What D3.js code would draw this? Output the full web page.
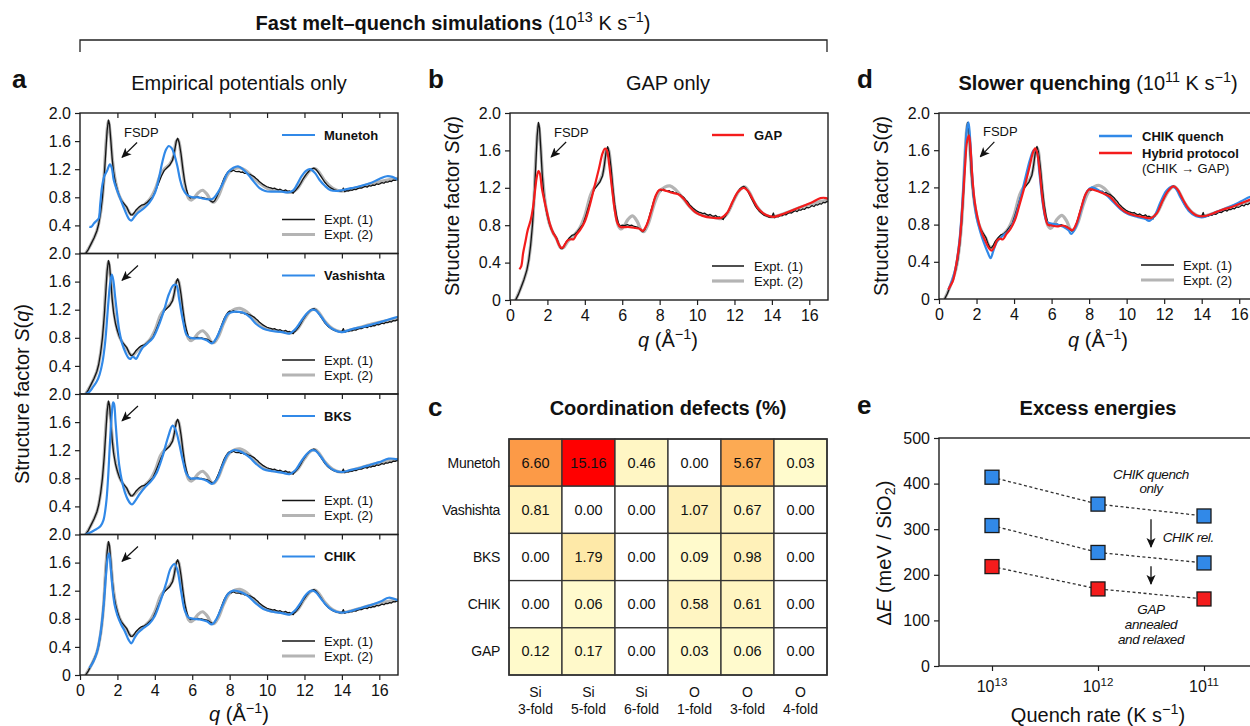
<!DOCTYPE html>
<html>
<head>
<meta charset="utf-8">
<script src="https://cdn.jsdelivr.net/npm/d3@7"></script>
<style>
body { margin: 0; background: #fff; }
svg { font-family: "Liberation Sans", Arial, sans-serif; }
</style>
</head>
<body>
<script>
// ---- data: structure factors S(q), [q, S] ----
var expt1 = [[0.3,0.0],[0.45,0.06],[0.6,0.14],[0.75,0.22],[0.9,0.32],[1.0,0.42],[1.1,0.58],[1.2,0.8],[1.3,1.12],[1.38,1.45],[1.45,1.75],[1.52,1.9],[1.58,1.84],[1.65,1.6],[1.72,1.35],[1.8,1.15],[1.9,1.0],[2.0,0.9],[2.1,0.82],[2.2,0.76],[2.35,0.71],[2.5,0.66],[2.62,0.59],[2.72,0.55],[2.8,0.55],[2.9,0.58],[3.0,0.62],[3.15,0.66],[3.3,0.69],[3.45,0.7],[3.6,0.73],[3.75,0.77],[3.9,0.81],[4.05,0.9],[4.2,1.0],[4.35,1.1],[4.5,1.18],[4.65,1.22],[4.8,1.26],[4.95,1.33],[5.05,1.45],[5.15,1.6],[5.22,1.64],[5.3,1.58],[5.4,1.42],[5.5,1.2],[5.6,1.02],[5.7,0.9],[5.8,0.82],[5.9,0.79],[6.0,0.8],[6.1,0.795],[6.2,0.8],[6.3,0.805],[6.4,0.795],[6.5,0.8],[6.6,0.79],[6.7,0.785],[6.8,0.78],[6.9,0.765],[7.0,0.745],[7.1,0.73],[7.2,0.75],[7.3,0.8],[7.4,0.86],[7.5,0.93],[7.6,1.0],[7.7,1.07],[7.8,1.12],[7.9,1.16],[8.0,1.18],[8.1,1.17],[8.2,1.185],[8.3,1.17],[8.4,1.165],[8.5,1.17],[8.6,1.155],[8.7,1.16],[8.8,1.14],[8.9,1.145],[9.0,1.13],[9.1,1.125],[9.2,1.11],[9.3,1.095],[9.4,1.07],[9.5,1.05],[9.6,1.02],[9.7,1.0],[9.8,0.98],[9.9,0.965],[10.0,0.95],[10.1,0.94],[10.2,0.935],[10.3,0.925],[10.4,0.93],[10.5,0.915],[10.6,0.905],[10.7,0.915],[10.8,0.9],[10.9,0.895],[11.0,0.905],[11.1,0.885],[11.2,0.89],[11.3,0.875],[11.4,0.86],[11.45,0.885],[11.5,0.89],[11.6,0.925],[11.7,0.96],[11.8,1.0],[11.9,1.05],[12.0,1.09],[12.1,1.13],[12.2,1.16],[12.3,1.19],[12.4,1.205],[12.5,1.215],[12.6,1.2],[12.7,1.17],[12.8,1.13],[12.9,1.09],[13.0,1.05],[13.1,1.01],[13.2,0.98],[13.3,0.955],[13.4,0.935],[13.5,0.92],[13.6,0.905],[13.7,0.9],[13.8,0.89],[13.9,0.885],[14.0,0.89],[14.08,0.93],[14.15,0.88],[14.25,0.895],[14.35,0.89],[14.45,0.905],[14.55,0.9],[14.65,0.915],[14.75,0.91],[14.85,0.925],[14.95,0.935],[15.05,0.93],[15.15,0.945],[15.25,0.955],[15.35,0.945],[15.45,0.965],[15.55,0.96],[15.65,0.975],[15.75,0.97],[15.85,0.99],[15.95,0.985],[16.05,0.995],[16.15,1.01],[16.25,1.0],[16.35,1.02],[16.45,1.015],[16.55,1.03],[16.65,1.025],[16.75,1.045],[16.85,1.04],[16.95,1.055],[17.0,1.05]];

var expt2 = [[0.3,0.0],[0.6,0.14],[0.9,0.32],[1.1,0.58],[1.25,0.95],[1.4,1.6],[1.52,1.88],[1.62,1.7],[1.75,1.3],[1.9,1.02],[2.1,0.82],[2.3,0.72],[2.5,0.65],[2.7,0.56],[2.85,0.56],[3.1,0.63],[3.4,0.69],[3.7,0.76],[4.0,0.9],[4.3,1.12],[4.5,1.2],[4.8,1.27],[5.0,1.38],[5.15,1.6],[5.25,1.62],[5.4,1.4],[5.6,1.0],[5.8,0.79],[5.95,0.76],[6.1,0.79],[6.3,0.86],[6.55,0.9],[6.8,0.84],[7.0,0.75],[7.15,0.73],[7.4,0.82],[7.7,1.02],[8.0,1.16],[8.3,1.21],[8.55,1.22],[8.8,1.19],[9.2,1.1],[9.6,1.0],[10.0,0.93],[10.5,0.9],[11.0,0.88],[11.3,0.87],[11.6,0.92],[12.0,1.08],[12.3,1.18],[12.55,1.21],[12.8,1.15],[13.1,1.03],[13.5,0.93],[13.9,0.89],[14.3,0.9],[15.0,0.95],[15.5,0.99],[16.0,1.02],[16.5,1.05],[17.0,1.07]];

var munetoh = [[0.5,0.38],[0.6,0.38],[0.75,0.43],[0.9,0.47],[1.0,0.5],[1.08,0.7],[1.18,0.95],[1.3,1.1],[1.45,1.18],[1.6,1.27],[1.7,1.22],[1.8,1.05],[1.95,0.92],[2.1,0.82],[2.3,0.68],[2.5,0.55],[2.65,0.48],[2.75,0.47],[2.9,0.52],[3.1,0.58],[3.4,0.64],[3.7,0.72],[4.0,0.86],[4.2,1.05],[4.4,1.3],[4.6,1.48],[4.75,1.53],[4.9,1.5],[5.05,1.4],[5.2,1.25],[5.35,1.05],[5.5,0.92],[5.7,0.84],[6.0,0.8],[6.3,0.8],[6.6,0.78],[6.9,0.77],[7.1,0.78],[7.3,0.84],[7.6,0.98],[7.9,1.15],[8.2,1.22],[8.45,1.24],[8.7,1.2],[9.0,1.12],[9.3,1.02],[9.6,0.93],[9.9,0.89],[10.3,0.88],[10.8,0.88],[11.1,0.87],[11.4,0.9],[11.6,0.98],[11.85,1.1],[12.1,1.18],[12.3,1.2],[12.55,1.15],[12.8,1.05],[13.1,0.96],[13.4,0.9],[13.7,0.89],[14.0,0.9],[14.5,0.93],[15.0,0.96],[15.5,1.0],[16.0,1.06],[16.4,1.1],[16.7,1.09],[17.0,1.05]];

var vashishta = [[0.3,0.0],[0.5,0.03],[0.7,0.1],[0.9,0.18],[1.05,0.28],[1.2,0.45],[1.35,0.75],[1.5,1.25],[1.6,1.55],[1.7,1.7],[1.78,1.62],[1.88,1.38],[2.0,1.1],[2.1,0.9],[2.25,0.72],[2.45,0.58],[2.6,0.51],[2.7,0.5],[2.8,0.53],[2.9,0.52],[3.0,0.5],[3.15,0.57],[3.35,0.66],[3.6,0.72],[3.9,0.8],[4.2,0.97],[4.5,1.2],[4.75,1.42],[5.0,1.55],[5.15,1.55],[5.3,1.35],[5.5,1.05],[5.7,0.84],[5.9,0.8],[6.2,0.79],[6.5,0.79],[6.8,0.76],[7.05,0.72],[7.3,0.8],[7.6,0.98],[7.9,1.14],[8.2,1.17],[8.5,1.17],[8.8,1.15],[9.1,1.09],[9.4,1.0],[9.8,0.93],[10.2,0.9],[10.8,0.88],[11.2,0.86],[11.5,0.92],[11.8,1.03],[12.1,1.14],[12.4,1.2],[12.6,1.19],[12.9,1.1],[13.2,0.99],[13.6,0.91],[14.0,0.88],[14.5,0.92],[15.0,0.95],[15.5,0.98],[16.0,1.02],[16.5,1.06],[17.0,1.1]];

var bks = [[0.3,0.0],[0.5,0.02],[0.7,0.05],[0.9,0.08],[1.1,0.12],[1.25,0.2],[1.4,0.45],[1.5,0.8],[1.6,1.3],[1.7,1.72],[1.77,1.88],[1.82,1.86],[1.9,1.6],[2.0,1.25],[2.1,0.98],[2.25,0.75],[2.4,0.6],[2.55,0.5],[2.7,0.44],[2.8,0.43],[2.95,0.48],[3.2,0.58],[3.5,0.68],[3.8,0.76],[4.1,0.88],[4.4,1.1],[4.7,1.38],[4.95,1.55],[5.1,1.5],[5.3,1.3],[5.5,1.05],[5.7,0.86],[5.9,0.8],[6.2,0.8],[6.5,0.79],[6.8,0.76],[7.05,0.72],[7.3,0.78],[7.6,0.97],[7.9,1.14],[8.2,1.2],[8.5,1.19],[8.8,1.15],[9.1,1.09],[9.4,1.01],[9.8,0.93],[10.3,0.9],[10.8,0.88],[11.2,0.86],[11.5,0.91],[11.8,1.03],[12.1,1.14],[12.4,1.2],[12.6,1.19],[12.9,1.1],[13.2,0.99],[13.6,0.91],[14.0,0.89],[14.5,0.92],[15.0,0.95],[15.5,0.99],[16.0,1.03],[16.5,1.08],[17.0,1.07]];

var chik = [[0.5,0.1],[0.7,0.18],[0.9,0.32],[1.1,0.6],[1.25,0.95],[1.4,1.45],[1.5,1.7],[1.56,1.73],[1.65,1.5],[1.75,1.2],[1.85,1.0],[2.0,0.85],[2.2,0.72],[2.4,0.62],[2.6,0.5],[2.75,0.45],[2.9,0.52],[3.1,0.6],[3.4,0.67],[3.7,0.73],[4.0,0.84],[4.3,1.05],[4.6,1.3],[4.85,1.52],[5.05,1.58],[5.2,1.5],[5.4,1.2],[5.6,0.92],[5.8,0.82],[6.1,0.8],[6.4,0.79],[6.8,0.76],[7.05,0.72],[7.3,0.8],[7.6,0.98],[7.9,1.15],[8.2,1.2],[8.6,1.18],[9.0,1.12],[9.4,1.02],[9.8,0.94],[10.3,0.9],[10.8,0.88],[11.2,0.86],[11.5,0.92],[11.8,1.03],[12.1,1.15],[12.4,1.2],[12.6,1.18],[12.9,1.08],[13.3,0.96],[13.7,0.9],[14.1,0.89],[14.6,0.92],[15.1,0.96],[15.6,1.0],[16.1,1.05],[16.5,1.1],[17.0,1.06]];

var gap = [[0.5,0.33],[0.6,0.36],[0.7,0.5],[0.82,0.62],[0.95,0.75],[1.1,0.85],[1.2,0.95],[1.3,1.1],[1.42,1.3],[1.52,1.38],[1.6,1.35],[1.7,1.2],[1.85,1.05],[2.0,0.92],[2.15,0.8],[2.3,0.72],[2.45,0.67],[2.6,0.6],[2.72,0.56],[2.82,0.56],[2.95,0.6],[3.1,0.64],[3.25,0.65],[3.4,0.65],[3.55,0.7],[3.75,0.75],[4.0,0.84],[4.25,1.0],[4.5,1.2],[4.75,1.4],[4.95,1.57],[5.08,1.62],[5.18,1.6],[5.3,1.45],[5.45,1.2],[5.6,0.96],[5.75,0.82],[5.9,0.78],[6.1,0.78],[6.4,0.78],[6.7,0.77],[6.95,0.76],[7.1,0.74],[7.3,0.8],[7.55,0.95],[7.8,1.12],[8.0,1.18],[8.3,1.17],[8.6,1.15],[9.0,1.13],[9.3,1.08],[9.6,1.0],[9.9,0.94],[10.3,0.9],[10.8,0.88],[11.3,0.88],[11.6,0.93],[11.9,1.05],[12.2,1.16],[12.5,1.2],[12.7,1.17],[13.0,1.07],[13.3,0.97],[13.7,0.91],[14.1,0.89],[14.6,0.92],[15.1,0.96],[15.6,1.0],[16.1,1.04],[16.6,1.09],[16.9,1.09],[17.0,1.08]];

var chikQuench = [[0.5,0.1],[0.7,0.2],[0.9,0.35],[1.1,0.65],[1.25,1.05],[1.38,1.5],[1.48,1.82],[1.57,1.9],[1.65,1.75],[1.75,1.4],[1.85,1.1],[2.0,0.88],[2.2,0.72],[2.4,0.6],[2.6,0.5],[2.75,0.44],[2.9,0.52],[3.1,0.62],[3.4,0.68],[3.7,0.73],[4.0,0.84],[4.3,1.05],[4.6,1.3],[4.85,1.5],[5.05,1.6],[5.18,1.6],[5.35,1.35],[5.55,1.0],[5.75,0.83],[6.0,0.81],[6.3,0.8],[6.6,0.78],[6.9,0.74],[7.05,0.7],[7.3,0.78],[7.6,0.98],[7.9,1.16],[8.15,1.2],[8.5,1.17],[8.9,1.12],[9.3,1.04],[9.7,0.96],[10.1,0.91],[10.6,0.88],[11.0,0.86],[11.2,0.84],[11.5,0.9],[11.8,1.04],[12.1,1.16],[12.4,1.21],[12.6,1.19],[12.9,1.08],[13.3,0.95],[13.7,0.89],[14.1,0.88],[14.6,0.92],[15.1,0.96],[15.6,1.0],[16.1,1.05],[16.6,1.1],[17.0,1.1]];

var hybrid = [[0.5,0.1],[0.6,0.14],[0.75,0.2],[0.9,0.35],[1.1,0.62],[1.25,1.0],[1.38,1.4],[1.5,1.7],[1.6,1.76],[1.68,1.62],[1.78,1.3],[1.9,1.05],[2.05,0.88],[2.25,0.73],[2.45,0.63],[2.65,0.55],[2.8,0.52],[2.95,0.56],[3.1,0.63],[3.25,0.65],[3.4,0.64],[3.6,0.7],[3.8,0.75],[4.05,0.85],[4.3,1.02],[4.55,1.2],[4.8,1.4],[5.0,1.57],[5.12,1.62],[5.22,1.58],[5.35,1.4],[5.5,1.1],[5.65,0.9],[5.8,0.8],[6.0,0.79],[6.3,0.78],[6.6,0.79],[6.85,0.77],[7.1,0.74],[7.3,0.8],[7.55,0.96],[7.8,1.12],[8.0,1.18],[8.3,1.17],[8.7,1.14],[9.1,1.1],[9.5,1.01],[9.9,0.94],[10.4,0.9],[10.9,0.88],[11.3,0.87],[11.6,0.92],[11.9,1.05],[12.2,1.16],[12.5,1.21],[12.7,1.18],[13.0,1.07],[13.3,0.97],[13.7,0.9],[14.1,0.89],[14.6,0.92],[15.1,0.96],[15.6,0.99],[16.1,1.03],[16.6,1.07],[17.0,1.11]];

// ---- data: coordination defects (%) ----
var defectRows = ["Munetoh", "Vashishta", "BKS", "CHIK", "GAP"];
var defectColTop = ["Si", "Si", "Si", "O", "O", "O"];
var defectColBottom = ["3-fold", "5-fold", "6-fold", "1-fold", "3-fold", "4-fold"];
var defectValues = [
    [6.60, 15.16, 0.46, 0.00, 5.67, 0.03],
    [0.81, 0.00, 0.00, 1.07, 0.67, 0.00],
    [0.00, 1.79, 0.00, 0.09, 0.98, 0.00],
    [0.00, 0.06, 0.00, 0.58, 0.61, 0.00],
    [0.12, 0.17, 0.00, 0.03, 0.06, 0.00]
];

// ---- data: excess energies (meV / SiO2) ----
var quenchRates = [1e13, 1e12, 1e11];
var energyChikQuench = [414, 355, 329];
var energyChikRelaxed = [308, 249, 226];
var energyGap = [218, 169, 147];

var BLUE = "#3189e8", RED = "#f41c1c", GREY = "#b4b4b4", BLACK = "#141414", AXIS = "#1e1e1e";

var width = 1250, height = 726;
var svg = d3.select("body").append("svg")
    .attr("width", width)
    .attr("height", height);

var defs = svg.append("defs");
defs.append("marker")
    .attr("id", "arrow")
    .attr("viewBox", "0 0 10 10")
    .attr("refX", 9).attr("refY", 5)
    .attr("markerWidth", 10).attr("markerHeight", 10)
    .attr("markerUnits", "userSpaceOnUse")
    .attr("orient", "auto")
    .append("path")
    .attr("d", "M0,0.5 L10,5 L0,9.5 L2.5,5 Z")
    .attr("fill", "#111");

// text with sub/superscript parts
function rich(g, x, y, size, parts, anchor) {
    var t = g.append("text")
        .attr("x", x).attr("y", y)
        .attr("font-size", size)
        .attr("fill", "#111")
        .attr("text-anchor", anchor || "middle");
    var shift = 0;
    parts.forEach(function (p) {
        var s = t.append("tspan").text(p.t);
        var target = p.sup ? -size * 0.38 : (p.sub ? size * 0.22 : 0);
        s.attr("dy", target - shift);
        shift = target;
        if (p.sup || p.sub) s.attr("font-size", size * 0.72);
        if (p.b) s.attr("font-weight", "bold");
        if (p.i) s.attr("font-style", "italic");
    });
    return t;
}

function styleAxis(a, fs) {
    a.select(".domain").remove();
    a.selectAll(".tick line").attr("stroke", AXIS).attr("stroke-width", 1.2);
    a.selectAll(".tick text").attr("font-size", fs).attr("fill", "#111")
        .attr("font-family", "Liberation Sans, Arial, sans-serif");
}

var clipCount = 0;
function sqPanel(ox, oy, w, h, opt) {
    var g = svg.append("g").attr("transform", "translate(" + ox + "," + oy + ")");
    var x = d3.scaleLinear().domain([0, 17]).range([0, w]);
    var y = d3.scaleLinear().domain([0, 2]).range([h, 0]);
    var id = "clip" + (clipCount++);
    defs.append("clipPath").attr("id", id).append("rect")
        .attr("x", 0).attr("y", 0).attr("width", w).attr("height", h);

    var line = d3.line().x(function (d) { return x(d[0]); }).y(function (d) { return y(d[1]); });
    var cg = g.append("g").attr("clip-path", "url(#" + id + ")");
    cg.append("path").datum(expt2).attr("d", line.curve(d3.curveCatmullRom.alpha(0.5)))
        .attr("fill", "none").attr("stroke", GREY).attr("stroke-width", 3.2);
    cg.append("path").datum(expt1).attr("d", line.curve(d3.curveLinear))
        .attr("fill", "none").attr("stroke", BLACK).attr("stroke-width", 1.3)
        .attr("stroke-linejoin", "round");
    opt.models.forEach(function (m) {
        cg.append("path").datum(m.data).attr("d", line.curve(d3.curveCatmullRom.alpha(0.5)))
            .attr("fill", "none").attr("stroke", m.color).attr("stroke-width", 2.2)
            .attr("stroke-linejoin", "round");
    });

    // axes
    var ya = g.append("g").call(d3.axisLeft(y).tickValues(opt.yTicks).tickSize(5).tickPadding(4)
        .tickFormat(function (d) { return d === 0 ? "0" : d.toFixed(1); }));
    styleAxis(ya, 16);
    if (opt.topTicks) {
        var ta = g.append("g").call(d3.axisTop(x).tickValues([2, 4, 6, 8, 10, 12, 14, 16]).tickSize(-5).tickFormat(""));
        styleAxis(ta, 16);
    }
    if (opt.xLabels) {
        var xa = g.append("g").attr("transform", "translate(0," + h + ")")
            .call(d3.axisBottom(x).tickValues([0, 2, 4, 6, 8, 10, 12, 14, 16]).tickSize(5).tickPadding(5));
        styleAxis(xa, 16);
    }
    g.append("rect").attr("width", w).attr("height", h)
        .attr("fill", "none").attr("stroke", AXIS).attr("stroke-width", 1.4);

    // legend
    opt.legend.forEach(function (l) {
        g.append("line").attr("x1", l.x1 - ox).attr("x2", l.x2 - ox)
            .attr("y1", l.y - oy).attr("y2", l.y - oy)
            .attr("stroke", l.color).attr("stroke-width", l.w);
        g.append("text").attr("x", l.tx - ox).attr("y", l.y - oy + 4.5)
            .attr("font-size", 13).attr("fill", "#111")
            .attr("font-weight", l.bold ? "bold" : "normal").text(l.text);
        if (l.sub) {
            g.append("text").attr("x", l.tx - ox).attr("y", l.y - oy + 20)
                .attr("font-size", 13).attr("fill", "#111").text(l.sub);
        }
    });

    // FSDP arrow
    g.append("line")
        .attr("x1", x(opt.arrow[0][0])).attr("y1", y(opt.arrow[0][1]))
        .attr("x2", x(opt.arrow[1][0])).attr("y2", y(opt.arrow[1][1]))
        .attr("stroke", "#111").attr("stroke-width", 1.2)
        .attr("marker-end", "url(#arrow)");
    if (opt.fsdp) {
        g.append("text").attr("x", opt.fsdp[0] - ox).attr("y", opt.fsdp[1] - oy)
            .attr("font-size", 13).attr("fill", "#111").text("FSDP");
    }
    return g;
}

function exptLegend(x1, x2, tx, yb) {
    return [
        { x1: x1, x2: x2, tx: tx, y: yb - 34, color: BLACK, w: 1.5, text: "Expt. (1)" },
        { x1: x1, x2: x2, tx: tx, y: yb - 19, color: GREY, w: 3.2, text: "Expt. (2)" }
    ];
}

// ---- panel a ----
var aModels = [
    { name: "Munetoh", data: munetoh },
    { name: "Vashishta", data: vashishta },
    { name: "BKS", data: bks },
    { name: "CHIK", data: chik }
];
var aTop = 113, aH = 140.5, aW = 318;
aModels.forEach(function (m, i) {
    var top = aTop + i * aH;
    var last = i === aModels.length - 1;
    var leg = [{ x1: 282, x2: 315, tx: 324, y: top + 22, color: BLUE, w: 2.2, text: m.name, bold: true }]
        .concat(exptLegend(282, 315, 324, top + aH));
    sqPanel(80, top, aW, aH, {
        models: [{ data: m.data, color: BLUE }],
        yTicks: last ? [0, 0.4, 0.8, 1.2, 1.6, 2.0] : [0.4, 0.8, 1.2, 1.6, 2.0],
        topTicks: true,
        xLabels: last,
        legend: leg,
        arrow: i === 0 ? [[3.05, 1.58], [2.25, 1.37]] : [[3.1, 1.83], [2.25, 1.62]],
        fsdp: i === 0 ? [124, 137] : null
    });
});

// ---- panel b ----
sqPanel(510, 113, 318, 187, {
    models: [{ data: gap, color: RED }],
    yTicks: [0, 0.4, 0.8, 1.2, 1.6, 2.0],
    topTicks: false,
    xLabels: true,
    legend: [{ x1: 712, x2: 744, tx: 754, y: 135, color: RED, w: 2.4, text: "GAP", bold: true }]
        .concat(exptLegend(712, 744, 754, 300)),
    arrow: [[3.0, 1.69], [2.2, 1.53]],
    fsdp: [554, 137]
});

// ---- panel d ----
sqPanel(939, 113, 319, 186, {
    models: [{ data: chikQuench, color: BLUE }, { data: hybrid, color: RED }],
    yTicks: [0, 0.4, 0.8, 1.2, 1.6, 2.0],
    topTicks: false,
    xLabels: true,
    legend: [
        { x1: 1099, x2: 1132, tx: 1142, y: 136, color: BLUE, w: 2.4, text: "CHIK quench", bold: true },
        { x1: 1099, x2: 1132, tx: 1142, y: 153, color: RED, w: 2.4, text: "Hybrid protocol", bold: true, sub: "(CHIK \u2192 GAP)" }
    ].concat(exptLegend(1141, 1174, 1183, 299)),
    arrow: [[2.95, 1.69], [2.2, 1.53]],
    fsdp: [983, 136]
});

// ---- panel c: heatmap ----
var hx = d3.scaleBand().domain(d3.range(defectColTop.length)).range([509, 827]);
var hy = d3.scaleBand().domain(defectRows).range([439, 675]);
var heatColor = d3.scaleLinear()
    .domain([0, 2, 6, 15.16])
    .range(["#fffbce", "#fee7a4", "#fca54c", "#ff0000"]);

var hg = svg.append("g");
defectValues.forEach(function (row, r) {
    row.forEach(function (v, c) {
        hg.append("rect")
            .attr("x", hx(c)).attr("y", hy(defectRows[r]))
            .attr("width", hx.bandwidth()).attr("height", hy.bandwidth())
            .attr("fill", v === 0 ? "#ffffff" : heatColor(v))
            .attr("stroke", "#333").attr("stroke-width", 1.3);
        hg.append("text")
            .attr("x", hx(c) + hx.bandwidth() / 2)
            .attr("y", hy(defectRows[r]) + hy.bandwidth() / 2 + 5)
            .attr("text-anchor", "middle").attr("font-size", 14.5).attr("fill", "#111")
            .text(v.toFixed(2));
    });
    hg.append("text")
        .attr("x", 500).attr("y", hy(defectRows[r]) + hy.bandwidth() / 2 + 5)
        .attr("text-anchor", "end").attr("font-size", 14).attr("fill", "#111")
        .attr("letter-spacing", -0.3)
        .text(defectRows[r]);
});
hg.append("rect").attr("x", 509).attr("y", 439).attr("width", 318).attr("height", 236)
    .attr("fill", "none").attr("stroke", "#333").attr("stroke-width", 1.6);
defectColTop.forEach(function (t, c) {
    var cx = hx(c) + hx.bandwidth() / 2;
    hg.append("text").attr("x", cx).attr("y", 697).attr("text-anchor", "middle")
        .attr("font-size", 14).attr("fill", "#111").text(t);
    hg.append("text").attr("x", cx).attr("y", 714).attr("text-anchor", "middle")
        .attr("font-size", 14).attr("fill", "#111").text(defectColBottom[c]);
});

// ---- panel e: excess energies ----
var ex = d3.scaleLog().domain([Math.pow(10, 13.5), Math.pow(10, 10.5)]).range([939, 1257]);
var ey = d3.scaleLinear().domain([0, 500]).range([666, 438]);
var eg = svg.append("g");
var eyAxis = eg.append("g").attr("transform", "translate(939,0)")
    .call(d3.axisLeft(ey).tickValues([0, 100, 200, 300, 400, 500]).tickSize(5).tickPadding(4));
styleAxis(eyAxis, 16);
var exAxis = eg.append("g").attr("transform", "translate(0,666)")
    .call(d3.axisBottom(ex).tickValues(quenchRates).tickSize(5).tickFormat(""));
styleAxis(exAxis, 16);
quenchRates.forEach(function (q) {
    rich(eg, ex(q), 692, 16, [{ t: "10" }, { t: String(Math.round(Math.log10(q))), sup: true }]);
});
eg.append("rect").attr("x", 939).attr("y", 438).attr("width", 318).attr("height", 228)
    .attr("fill", "none").attr("stroke", AXIS).attr("stroke-width", 1.4);

[[energyChikQuench, BLUE], [energyChikRelaxed, BLUE], [energyGap, RED]].forEach(function (s) {
    var pts = quenchRates.map(function (q, i) { return [q, s[0][i]]; });
    eg.append("path").datum(pts)
        .attr("d", d3.line().x(function (d) { return ex(d[0]); }).y(function (d) { return ey(d[1]); }))
        .attr("fill", "none").attr("stroke", "#333").attr("stroke-width", 1.3)
        .attr("stroke-dasharray", "3,2.5");
    eg.selectAll(null).data(pts).enter().append("rect")
        .attr("x", function (d) { return ex(d[0]) - 7; })
        .attr("y", function (d) { return ey(d[1]) - 7; })
        .attr("width", 14).attr("height", 14)
        .attr("fill", s[1]).attr("stroke", "#1a1a1a").attr("stroke-width", 1.3);
});

var annX = Math.pow(10, 11.5);
[[322, 261], [219, 180]].forEach(function (a) {
    eg.append("line").attr("x1", ex(annX)).attr("x2", ex(annX))
        .attr("y1", ey(a[0])).attr("y2", ey(a[1]))
        .attr("stroke", "#111").attr("stroke-width", 1.3)
        .attr("marker-end", "url(#arrow)");
});
function ann(txt, xv, yv, anchor) {
    eg.append("text").attr("x", ex(xv)).attr("y", ey(yv))
        .attr("text-anchor", anchor || "middle").attr("font-size", 13.5)
        .attr("font-style", "italic").attr("fill", "#111").attr("letter-spacing", -0.4)
        .text(txt);
}
ann("CHIK quench", annX, 411);
ann("only", annX, 379);
ann("CHIK rel.", Math.pow(10, 11.39), 273, "start");
ann("GAP", annX, 114);
ann("annealed", annX, 81);
ann("and relaxed", annX, 48);

// ---- titles, labels ----
rich(svg, 453, 30, 20, [{ t: "Fast melt\u2013quench simulations", b: true }, { t: " (10" }, { t: "13", sup: true }, { t: " K s" }, { t: "\u22121", sup: true }, { t: ")" }]);
svg.append("path").attr("d", "M80,52 V40 H827 V52")
    .attr("fill", "none").attr("stroke", "#222").attr("stroke-width", 1.3);

function letter(t, x, y) {
    svg.append("text").attr("x", x).attr("y", y).attr("font-size", 26)
        .attr("font-weight", "bold").attr("fill", "#111").text(t);
}
letter("a", 12, 88);
letter("b", 428, 88);
letter("d", 857, 88);
letter("c", 428, 416);
letter("e", 857, 414);

rich(svg, 239, 90, 20, [{ t: "Empirical potentials only" }]);
rich(svg, 668, 90, 20, [{ t: "GAP only" }]);
rich(svg, 1098, 90, 20, [{ t: "Slower quenching", b: true }, { t: " (10" }, { t: "11", sup: true }, { t: " K s" }, { t: "\u22121", sup: true }, { t: ")" }]);
rich(svg, 668, 415, 20, [{ t: "Coordination defects (%)", b: true }]);
rich(svg, 1098, 415, 20, [{ t: "Excess energies", b: true }]);

var qLabel = [{ t: "q", i: true }, { t: " (\u00c5" }, { t: "\u22121", sup: true }, { t: ")" }];
rich(svg, 239, 721, 20, qLabel);
rich(svg, 668, 347, 20, qLabel);
rich(svg, 1098, 347, 20, qLabel);
rich(svg, 1098, 722, 20, [{ t: "Quench rate (K s" }, { t: "\u22121", sup: true }, { t: ")" }]);

function vlabel(cx, cy, parts) {
    var g = svg.append("g").attr("transform", "translate(" + cx + "," + cy + ") rotate(-90)");
    rich(g, 0, 7, 20, parts);
}
var sqLabel = [{ t: "Structure factor " }, { t: "S", i: true }, { t: "(" }, { t: "q", i: true }, { t: ")" }];
vlabel(22, 394, sqLabel);
vlabel(452, 206, sqLabel);
vlabel(881, 206, sqLabel);
vlabel(884, 553, [{ t: "\u0394" }, { t: "E", i: true }, { t: " (meV / SiO" }, { t: "2", sub: true }, { t: ")" }]);
</script>
</body>
</html>
